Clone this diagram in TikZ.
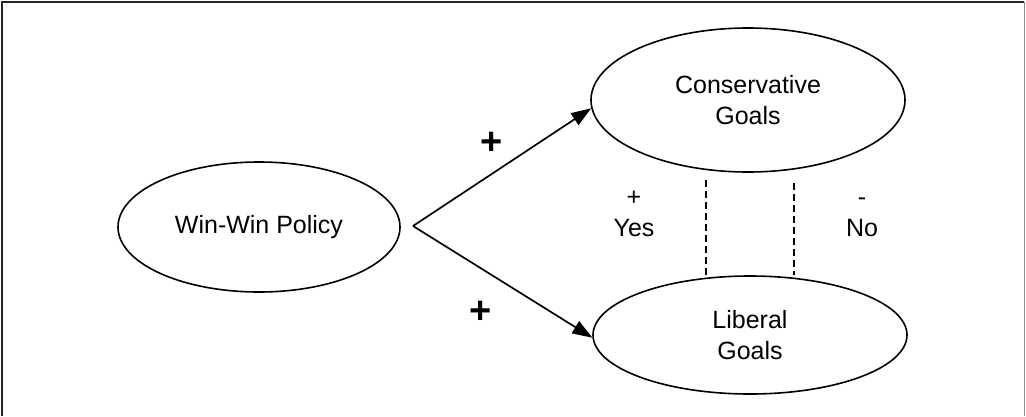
\documentclass[tikz,border=0pt]{standalone}
\usepackage{fontspec}
\setmainfont{Liberation Sans}
\usetikzlibrary{shapes.geometric,arrows.meta}

\tikzset{
  goal/.style={draw, ellipse, line width=1.6pt, inner sep=0pt, align=center,
    font=\fontsize{25}{31}\selectfont},
  lbl/.style={inner sep=0pt, anchor=base, font=\fontsize{25}{31}\selectfont},
  sign/.style={inner sep=0pt, font=\fontsize{38}{40}\selectfont\bfseries},
  arr/.style={line width=1.7pt, -{Triangle[length=20pt,width=14pt]}},
  link/.style={line width=1.2pt, dash pattern=on 7pt off 4pt},
}

\begin{document}
\begin{tikzpicture}[x=1pt, y=-1pt]
  \useasboundingbox (0,0) rectangle (1026,416);

  % open frame: left, top and right sides
  \draw[line width=2pt, black!85] (1.5,416) -- (1.5,2) -- (1024,2);
  \draw[line width=1.2pt, black!45] (1024.5,2) -- (1024.5,416);

  % goal ellipses
  \node[goal, minimum width=282pt, minimum height=130pt] (policy) at (259,227) {Win-Win Policy};
  \node[goal, minimum width=314pt, minimum height=144pt] (cons) at (748,100) {Conservative\\Goals};
  \node[goal, minimum width=314pt, minimum height=118pt] (lib) at (750,335) {Liberal\\Goals};

  % the two effects of the policy
  \coordinate (apex) at (413,226);
  \draw[arr] (apex) -- (cons.183);
  \draw[arr] (apex) -- (lib.181);
  \node[sign] (pup) at (492,143) {+};
  \node[sign] (plo) at (481,312) {+};

  % dashed links between the goals
  \coordinate (d1) at (706,180);
  \coordinate (d2) at (794,183);
  \draw[link] (d1) -- (d1 |- lib.north);
  \draw[link] (d2) -- (d2 |- lib.north);

  % yes / no labels
  \node[lbl] (yplus) at (634,205) {+};
  \node[lbl] (yes) at (634,236) {Yes};
  \node[lbl] (nminus) at (862,205) {-};
  \node[lbl] (no) at (862,236) {No};
\end{tikzpicture}
\end{document}
